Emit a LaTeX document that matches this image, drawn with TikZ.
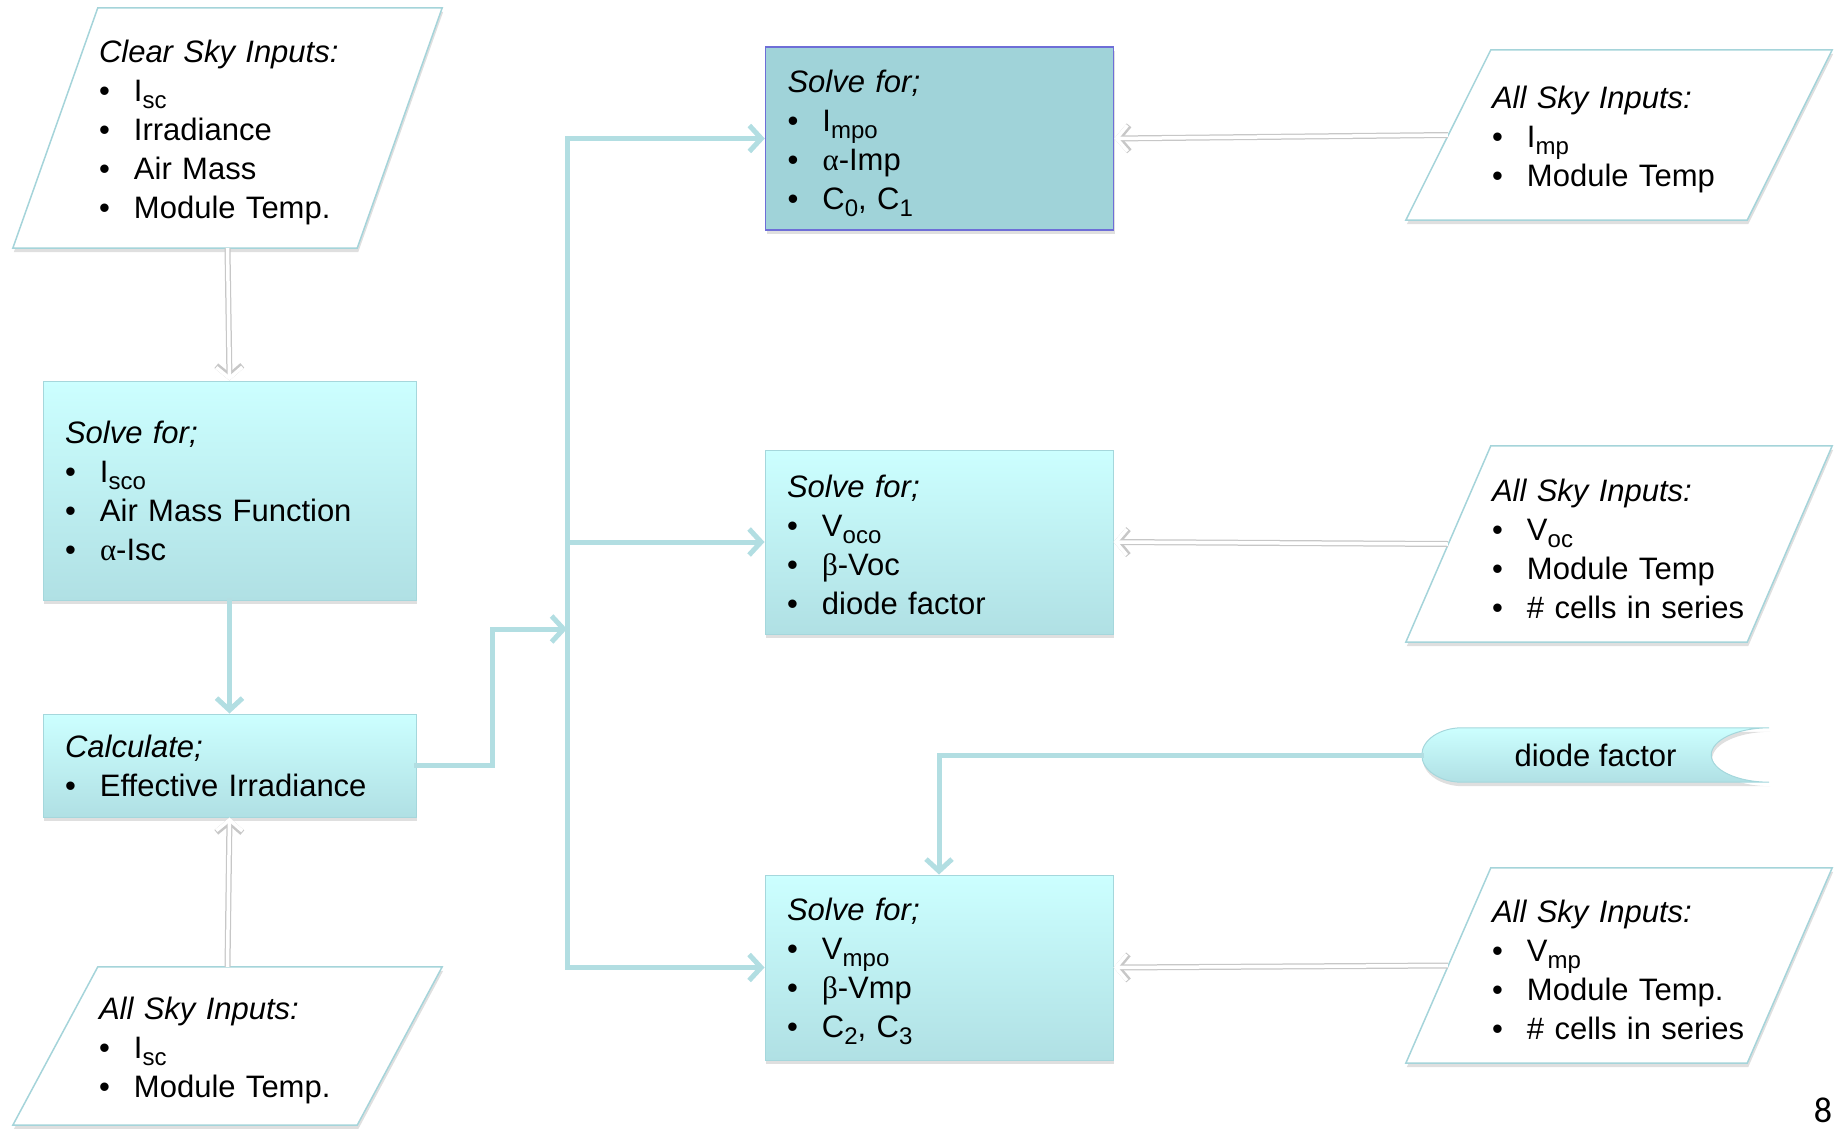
\documentclass[tikz,border=0pt]{standalone}
\usepackage{fontspec}
\setmainfont{Liberation Sans}
\newfontfamily\grk{Liberation Serif}
\newfontfamily\slidenum{Carlito}
\usetikzlibrary{arrows.meta,shadows,backgrounds}

\definecolor{flowc}{RGB}{178,222,226}
\definecolor{boxtop}{RGB}{204,255,255}
\definecolor{boxbot}{RGB}{176,224,228}
\definecolor{boxedge}{RGB}{165,215,220}
\definecolor{darkbox}{RGB}{160,211,217}
\definecolor{darkedge}{RGB}{110,110,215}
\definecolor{paraedge}{RGB}{165,212,218}

\newcommand\bul{\makebox[35pt][l]{\textbullet}}
\newcommand\sub[1]{\raisebox{-7pt}{\fontsize{24}{24}\selectfont #1}}
\newcommand\al{{\grk α}}
\newcommand\be{{\grk β}}

\tikzset{
  txt/.style={font=\fontsize{31}{39}\selectfont, align=left, inner ysep=0pt},
  solvebox/.style={txt, rectangle, draw=boxedge, line width=1pt, top color=boxtop, bottom color=boxbot,
    drop shadow={shadow xshift=1pt, shadow yshift=-4pt, opacity=0.25}, inner xsep=22pt},
  lower/.style={execute at begin node={\rule{0pt}{#1}}},
  inbox/.style={txt, lower=32pt, inner xsep=86pt, text width=#1},
  frame/.style={draw=paraedge, line width=1.5pt, fill=white,
    drop shadow={shadow xshift=1pt, shadow yshift=-4pt, opacity=0.25}},
  storebox/.style={draw=boxedge, line width=1pt, top color=boxtop, bottom color=boxbot,
    drop shadow={shadow xshift=1pt, shadow yshift=-4pt, opacity=0.25}},
  flow/.style={draw=flowc, line width=5pt, line cap=rect, -{Straight Barb[length=12pt,width=26pt]}},
  busline/.style={draw=flowc, line width=5pt, line cap=rect},
  feed/.style={draw=white, line width=3.5pt, -{Straight Barb[length=11pt,width=26pt]},
    preaction={draw=black!22, line width=6pt, -{Straight Barb[length=11pt,width=26pt]}}},
}

\begin{document}
\begin{tikzpicture}[x=1pt, y=-1pt]
\useasboundingbox (0,0) rectangle (1841,1129);

% inputs
\node[inbox=257pt, minimum height=240pt] (clear) at (227.5,128)
  {\textit{Clear Sky Inputs:}\\ \bul I\sub{sc}\\ \bul Irradiance\\ \bul Air Mass\\ \bul Module Temp.};
\node[inbox=257pt, minimum height=158pt] (allI) at (227.5,1046)
  {\textit{All Sky Inputs:}\\ \bul I\sub{sc}\\ \bul Module Temp.};
\node[inbox=254pt, minimum height=170pt] (skyImp) at (1619,135)
  {\textit{All Sky Inputs:}\\ \bul I\sub{mp}\\ \bul Module Temp};
\node[inbox=254pt, minimum height=196pt] (skyVoc) at (1619,544)
  {\textit{All Sky Inputs:}\\ \bul V\sub{oc}\\ \bul Module Temp\\ \bul \# cells in series};
\node[inbox=254pt, minimum height=195pt] (skyVmp) at (1619,965.5)
  {\textit{All Sky Inputs:}\\ \bul V\sub{mp}\\ \bul Module Temp.\\ \bul \# cells in series};
\node[txt, minimum width=347pt, minimum height=54pt] (diode) at (1595.5,755) {diode factor};

% solve steps
\node[solvebox, text width=329pt, minimum height=219pt] (solveI) at (229.5,490.5)
  {\textit{Solve for;}\\ \bul I\sub{sco}\\ \bul Air Mass Function\\ \bul \al-Isc};
\node[solvebox, text width=329pt, minimum height=103pt] (calc) at (229.5,765.5)
  {\textit{Calculate;}\\ \bul Effective Irradiance};
\node[solvebox, lower=32pt, draw=darkedge, fill=darkbox, top color=darkbox, bottom color=darkbox, line width=1.5pt,
  text width=304pt, minimum height=183pt] (impo) at (939.5,138.5)
  {\textit{Solve for;}\\ \bul I\sub{mpo}\\ \bul \al-Imp\\ \bul C\sub{0}, C\sub{1}};
\node[solvebox, lower=28pt, text width=304pt, minimum height=184pt] (voco) at (939,542)
  {\textit{Solve for;}\\ \bul V\sub{oco}\\ \bul \be-Voc\\ \bul diode factor};
\node[solvebox, lower=30pt, text width=304pt, minimum height=185pt] (vmpo) at (939,967.5)
  {\textit{Solve for;}\\ \bul V\sub{mpo}\\ \bul \be-Vmp\\ \bul C\sub{2}, C\sub{3}};

\node[font=\slidenum\fontsize{36}{40}\selectfont, anchor=base] (pg) at (1823,1122) {8};

\begin{scope}[on background layer]
\foreach \n in {clear,allI,skyImp,skyVoc,skyVmp} {
  \draw[frame] (\n.south west) -- ([xshift=-85pt]\n.south east) -- (\n.north east)
    -- ([xshift=85pt]\n.north west) -- cycle;
}
\draw[storebox] ([xshift=40pt]diode.north west) -- (diode.north east)
  .. controls ([xshift=-32pt]diode.north east) and ([xshift=-58pt,yshift=15pt]diode.east) .. ([xshift=-58pt]diode.east)
  .. controls ([xshift=-58pt,yshift=-15pt]diode.east) and ([xshift=-32pt]diode.south east) .. (diode.south east)
  -- ([xshift=40pt]diode.south west)
  .. controls ([xshift=18pt]diode.south west) and ([yshift=-15pt]diode.west) .. (diode.west)
  .. controls ([yshift=15pt]diode.west) and ([xshift=18pt]diode.north west) .. cycle;
\end{scope}

% connectors
\coordinate (bus) at (567,629);
\draw[feed] (clear.south) -- (solveI.north);
\draw[feed] (allI.north) -- (calc.south);
\draw[flow] (solveI.south) -- (calc.north);
\draw[flow] (calc.east) -- ++(76pt,0) |- (bus);
\draw[busline] (impo.west -| bus) -- (vmpo.west -| bus);
\foreach \b in {impo,voco,vmpo} {
  \draw[flow] (\b.west -| bus) -- (\b.west);
}
\foreach \s/\b in {skyImp/impo,skyVoc/voco,skyVmp/vmpo} {
  \draw[feed] ([xshift=42pt]\s.west) -- (\b.east);
}
\draw[flow] (diode.west) -| (vmpo.north);
\end{tikzpicture}
\end{document}
